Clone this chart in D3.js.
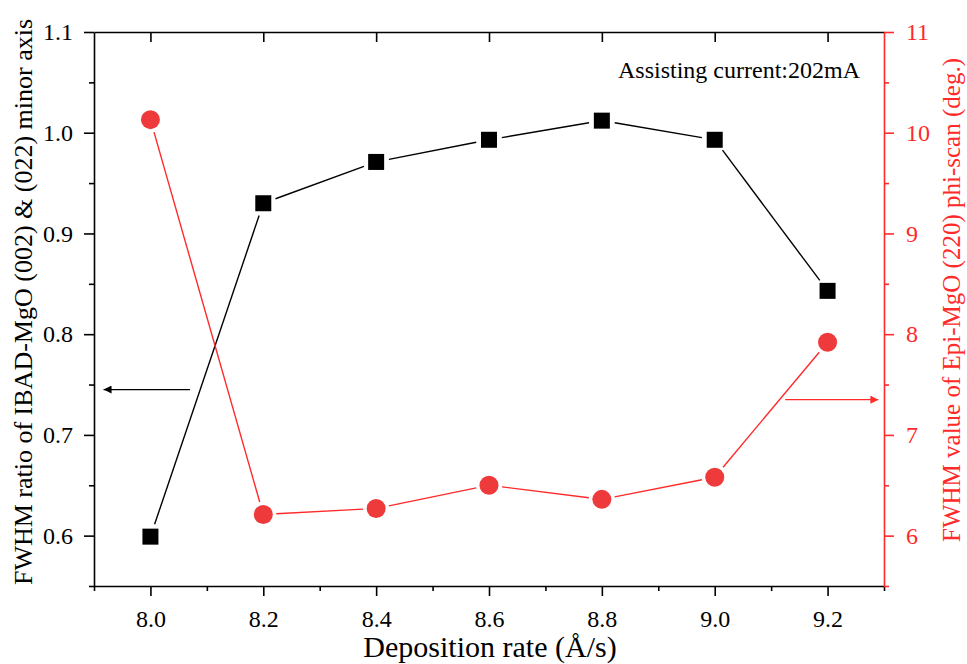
<!DOCTYPE html>
<html>
<head>
<meta charset="utf-8">
<script src="https://cdn.jsdelivr.net/npm/d3@7"></script>
<style>
  body { margin: 0; background: #fff; }
  svg text { font-family: "Liberation Serif", "Times New Roman", serif; }
</style>
</head>
<body>
<div id="chart-area"></div>
<script>
// deposition rate (A/s)
var rates = [8.0, 8.2, 8.4, 8.6, 8.8, 9.0, 9.2];
// FWHM ratio, left axis
var ratio = [0.599, 0.930, 0.971, 0.993, 1.012, 0.993, 0.843];
// FWHM phi-scan (deg.), right axis
var phiFwhm = [10.13, 6.21, 6.27, 6.50, 6.36, 6.58, 7.92];

var xTicks = [8.0, 8.2, 8.4, 8.6, 8.8, 9.0, 9.2];
var yLeftTicks = [0.6, 0.7, 0.8, 0.9, 1.0, 1.1];
var yRightTicks = [6, 7, 8, 9, 10, 11];

var margin = { left: 94, right: 83, top: 32, bottom: 78 };
var width = 967 - margin.left - margin.right,
    height = 664 - margin.top - margin.bottom;

var red = "#ff2a2a";

var svg = d3.select("#chart-area")
  .append("svg")
    .attr("width", 967)
    .attr("height", 664);

var g = svg.append("g")
    .attr("transform", "translate(" + margin.left + "," + margin.top + ")");

var x = d3.scaleLinear().domain([7.9, 9.3]).range([0, width]);
var y = d3.scaleLinear().domain([0.55, 1.1]).range([height, 0]);
var y2 = d3.scaleLinear().domain([5.5, 11]).range([height, 0]);

// minor ticks
var xMinor = d3.range(7.9, 9.31, 0.1).map(function(d){ return +d.toFixed(2); })
  .filter(function(d){ return xTicks.indexOf(d) < 0; });
var yMinor = [0.55, 0.65, 0.75, 0.85, 0.95, 1.05];
var y2Minor = [5.5, 6.5, 7.5, 8.5, 9.5, 10.5];

function styleAxis(sel, color) {
  sel.attr("font-family", "Liberation Serif, serif").attr("font-size", 24);
  sel.select(".domain").attr("stroke", color).attr("stroke-width", 1.6);
  sel.selectAll(".tick line").attr("stroke", color).attr("stroke-width", 1.6);
  sel.selectAll(".tick text")
    .attr("fill", color)
    .style("font-size", "24px")
    .style("font-family", "'Liberation Serif', serif");
}

// bottom axis
var xAxis = g.append("g")
  .attr("transform", "translate(0," + height + ")")
  .call(d3.axisBottom(x).tickValues(xTicks).tickSize(10).tickSizeOuter(0).tickPadding(14)
    .tickFormat(d3.format(".1f")));
styleAxis(xAxis, "#000");
g.append("g")
  .attr("transform", "translate(0," + height + ")")
  .call(d3.axisBottom(x).tickValues(xMinor).tickSize(5).tickFormat(""))
  .call(function(s){ s.select(".domain").remove(); styleAxis(s, "#000"); });

// top frame with inward ticks
var xTop = g.append("g")
  .call(d3.axisBottom(x).tickValues(xTicks).tickSize(10).tickSizeOuter(0).tickFormat(""));
styleAxis(xTop, "#000");

// left axis
var yAxis = g.append("g")
  .call(d3.axisLeft(y).tickValues(yLeftTicks).tickSize(10).tickSizeOuter(0).tickPadding(11)
    .tickFormat(d3.format(".1f")));
styleAxis(yAxis, "#000");
g.append("g")
  .call(d3.axisLeft(y).tickValues(yMinor).tickSize(5).tickFormat(""))
  .call(function(s){ s.select(".domain").remove(); styleAxis(s, "#000"); });

// right axis (red)
var yAxis2 = g.append("g")
  .attr("transform", "translate(" + width + ",0)")
  .call(d3.axisRight(y2).tickValues(yRightTicks).tickSize(10).tickSizeOuter(0).tickPadding(12)
    .tickFormat(d3.format("d")));
styleAxis(yAxis2, red);
g.append("g")
  .attr("transform", "translate(" + width + ",0)")
  .call(d3.axisRight(y2).tickValues(y2Minor).tickSize(5).tickFormat(""))
  .call(function(s){ s.select(".domain").remove(); styleAxis(s, red); });

// line segments with small gaps near the markers
function drawSeries(vals, yScale, color, gap) {
  for (var i = 0; i < vals.length - 1; i++) {
    var x1 = x(rates[i]), y1 = yScale(vals[i]);
    var x2 = x(rates[i + 1]), y2v = yScale(vals[i + 1]);
    var dx = x2 - x1, dy = y2v - y1, len = Math.sqrt(dx * dx + dy * dy);
    var ux = dx / len, uy = dy / len;
    g.append("line")
      .attr("x1", x1 + ux * gap).attr("y1", y1 + uy * gap)
      .attr("x2", x2 - ux * gap).attr("y2", y2v - uy * gap)
      .attr("stroke", color)
      .attr("stroke-width", 1.4);
  }
}
drawSeries(ratio, y, "#000", 13);
drawSeries(phiFwhm, y2, red, 13);

g.selectAll("rect.sq")
  .data(rates)
  .enter().append("rect")
    .attr("class", "sq")
    .attr("x", function(d){ return x(d) - 8; })
    .attr("y", function(d, i){ return y(ratio[i]) - 8; })
    .attr("width", 16)
    .attr("height", 16)
    .attr("fill", "#000");

g.selectAll("circle.dot")
  .data(rates)
  .enter().append("circle")
    .attr("class", "dot")
    .attr("cx", function(d){ return x(d); })
    .attr("cy", function(d, i){ return y2(phiFwhm[i]); })
    .attr("r", 9.5)
    .attr("fill", "#ee3a3a");

// arrows
var defs = svg.append("defs");
function marker(id, color) {
  defs.append("marker")
    .attr("id", id)
    .attr("viewBox", "0 0 10 10")
    .attr("refX", 10).attr("refY", 5)
    .attr("markerWidth", 14).attr("markerHeight", 8)
    .attr("markerUnits", "userSpaceOnUse")
    .attr("orient", "auto")
    .append("path")
      .attr("d", "M0,0 L10,5 L0,10 Z")
      .attr("fill", color);
}
marker("arrBlack", "#000");
marker("arrRed", red);

g.append("line")
  .attr("x1", x(8.07)).attr("y1", y(0.745))
  .attr("x2", x(7.917)).attr("y2", y(0.745))
  .attr("stroke", "#000").attr("stroke-width", 1.2)
  .attr("marker-end", "url(#arrBlack)");

g.append("line")
  .attr("x1", x(9.125)).attr("y1", y2(7.35))
  .attr("x2", x(9.29)).attr("y2", y2(7.35))
  .attr("stroke", red).attr("stroke-width", 1.2)
  .attr("marker-end", "url(#arrRed)");

// annotation
svg.append("text")
  .attr("x", 618)
  .attr("y", 78)
  .attr("font-size", "24px")
  .attr("fill", "#000")
  .text("Assisting current:202mA");

// axis titles
svg.append("text")
  .attr("x", 490)
  .attr("y", 657)
  .attr("text-anchor", "middle")
  .attr("font-size", "30px")
  .text("Deposition rate (\u00c5/s)");

svg.append("text")
  .attr("transform", "translate(32,302) rotate(-90)")
  .attr("text-anchor", "middle")
  .attr("font-size", "26px")
  .text("FWHM ratio of IBAD-MgO (002) & (022) minor axis");

svg.append("text")
  .attr("transform", "translate(960,300) rotate(-90)")
  .attr("text-anchor", "middle")
  .attr("font-size", "25px")
  .attr("fill", red)
  .text("FWHM value of Epi-MgO (220) phi-scan (deg.)");
</script>
</body>
</html>
